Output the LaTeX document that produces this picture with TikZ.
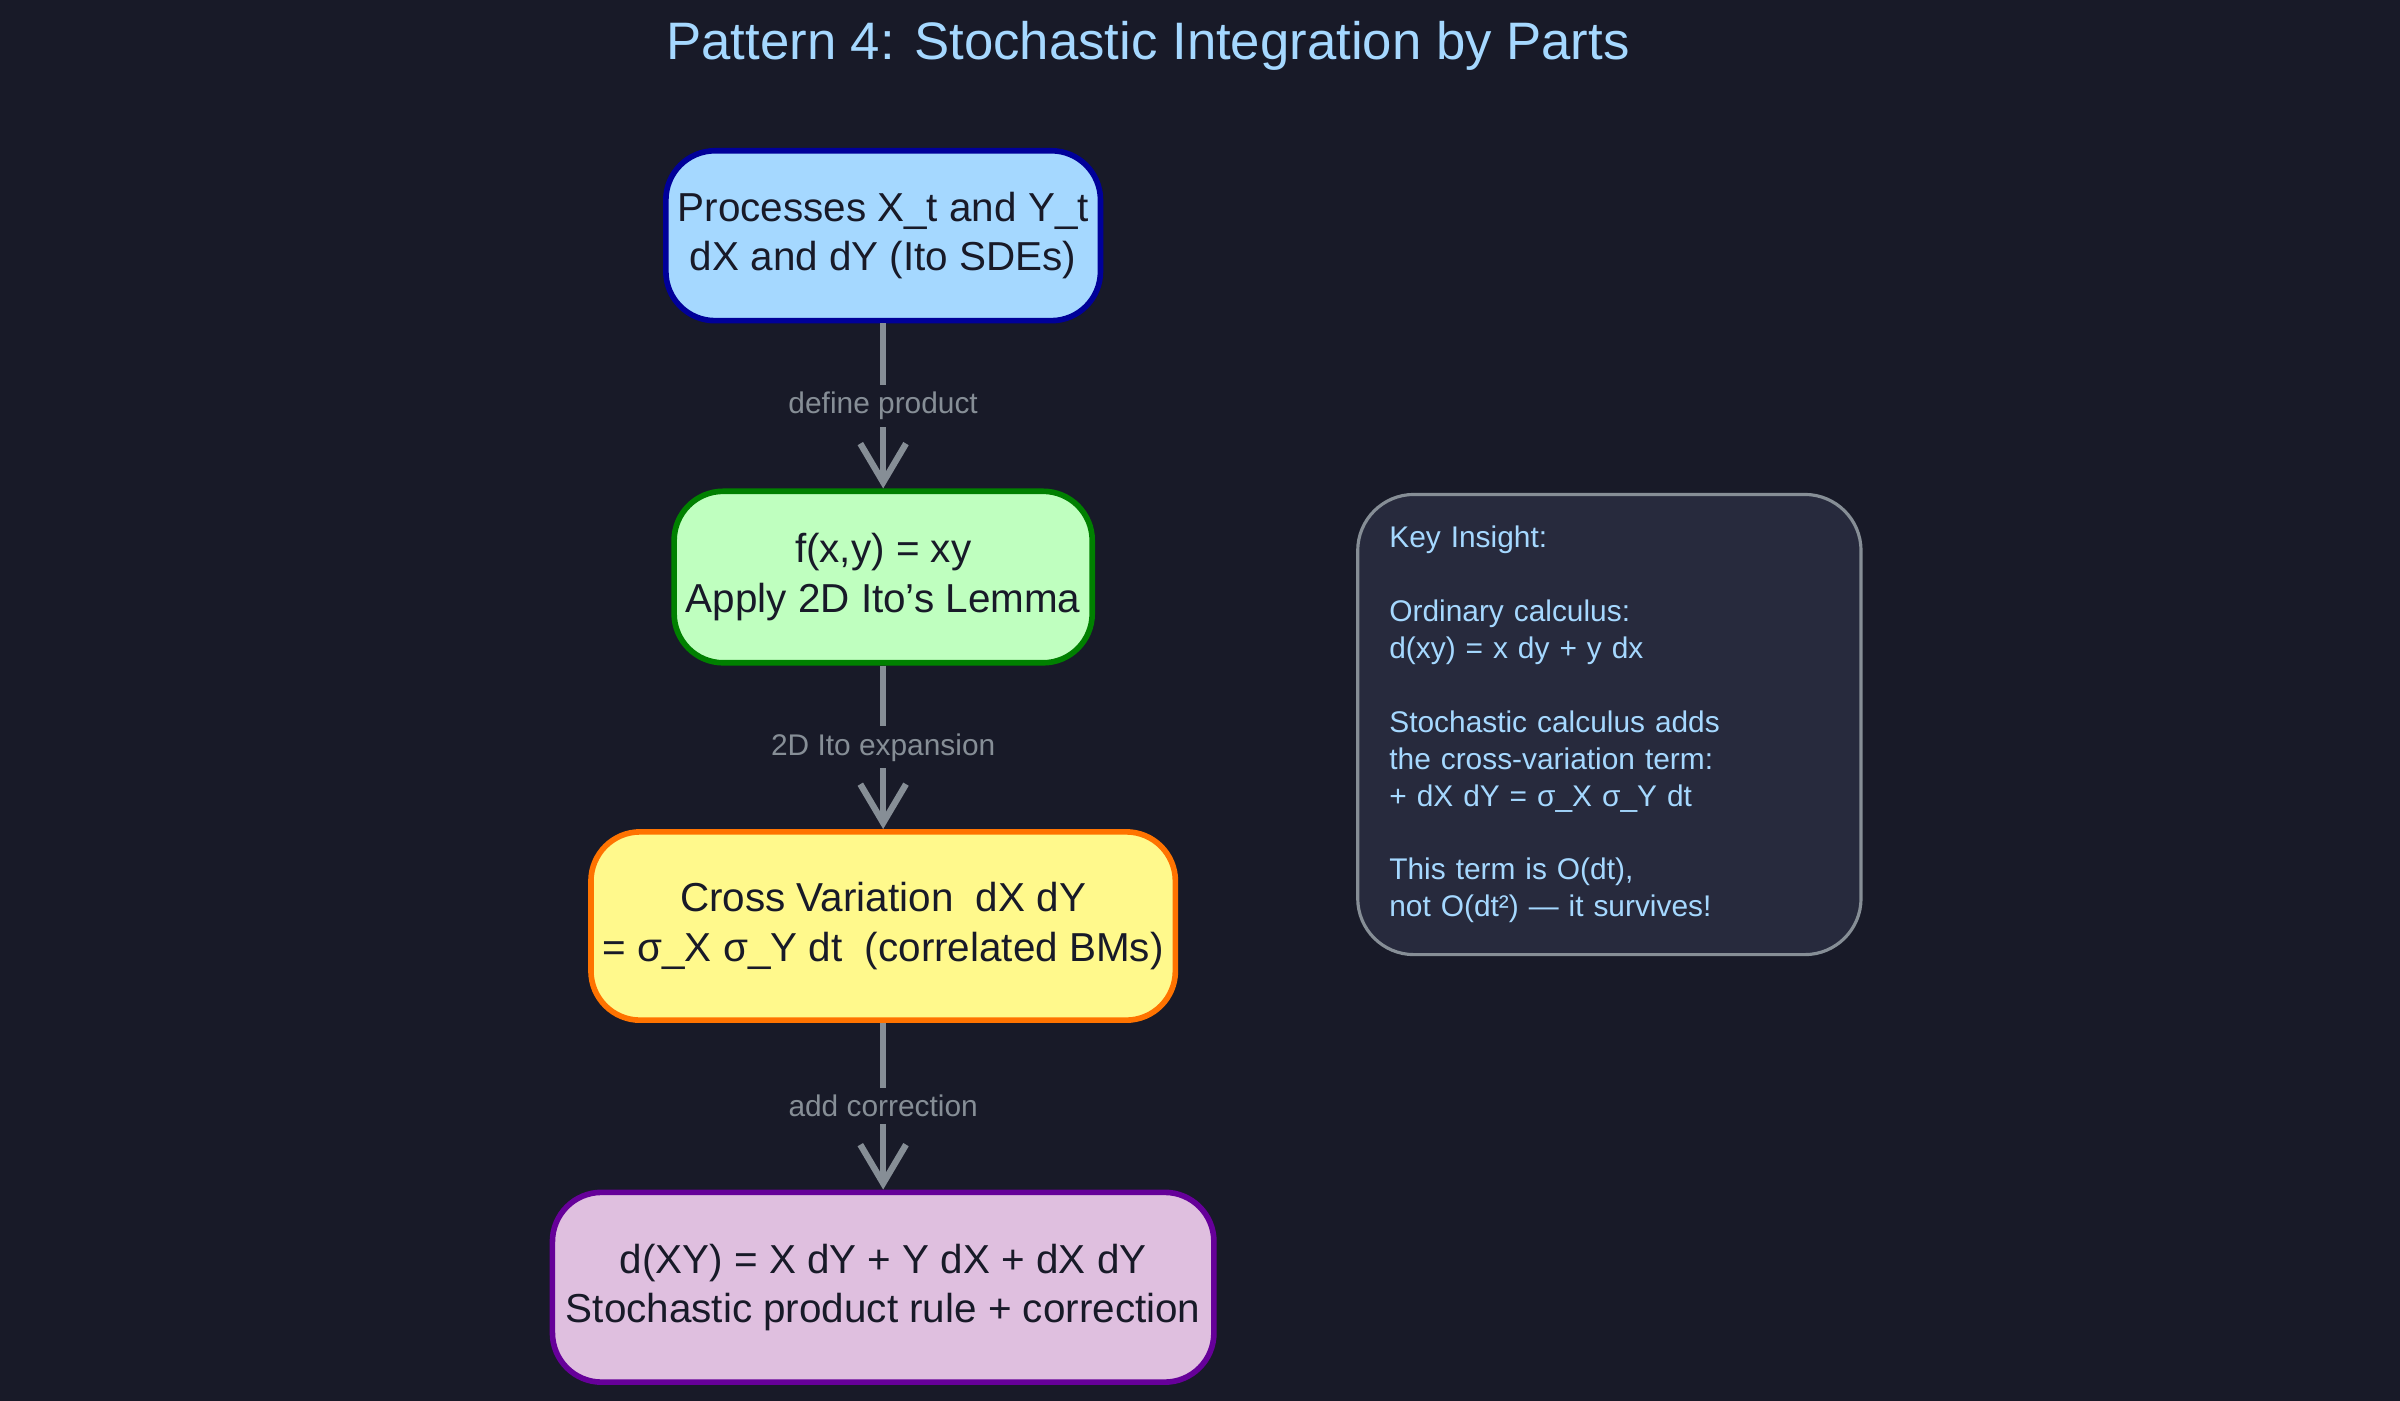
\documentclass[tikz,border=0pt]{standalone}
\usepackage{fontspec}
\setmainfont{Liberation Sans}
\usetikzlibrary{arrows.meta, positioning}
\definecolor{fondo}{HTML}{181A28}
\definecolor{titulo}{HTML}{A5D8FF}
\definecolor{gris}{HTML}{868E96}
\definecolor{nota}{HTML}{272A3D}

\begin{document}
\begin{tikzpicture}[
		x=0.01531cm, y=-0.01531cm,
		% --- Estilos ---
		caja/.style={
			draw, 
			rectangle, 
			rounded corners=14pt, 
			align=center,
			line width=1.6pt,
			text=fondo,
			font=\fontsize{11.5}{14}\selectfont
		},
		flecha/.style={
			-{Straight Barb[length=11pt, width=13pt]}, 
			line width=1.8pt,
			draw=gris
		},
		etiqueta/.style={
			fill=fondo, 
			text=gris, 
			font=\fontsize{8.5}{10}\selectfont,
			inner sep=2pt
		}
		]
		% Fondo y título
		\fill[fondo] (0,0) rectangle (1568,915);
		\useasboundingbox (0,0) rectangle (1568,915);
		\node[text=titulo, font=\fontsize{15}{18}\selectfont] (title) at (750,30) {Pattern 4: Stochastic Integration by Parts};
		
		% 1. Cajas principales
		\node[caja, fill=titulo, draw=blue!60!black, minimum width=4.164cm, minimum height=1.699cm] (proc) at (577,154) {Processes X\_t and Y\_t\\dX and dY (Ito SDEs)};
		\node[caja, fill=green!25, draw=green!50!black, minimum width=4.164cm, minimum height=1.715cm] (lema) at (577,377) {f(x,y) = xy\\Apply 2D Ito's Lemma};
		\node[caja, fill=yellow!45, draw=orange!90!red, minimum width=5.098cm, minimum height=1.883cm] (cross) at (577,605) {Cross Variation \ dX dY\\= σ\_X σ\_Y dt \ (correlated BMs)};
		\node[caja, fill=violet!25, draw=violet!80!blue, minimum width=6.614cm, minimum height=1.898cm] (regla) at (577,841) {d(XY) = X dY + Y dX + dX dY\\Stochastic product rule + correction};
		
		% 2. Nota lateral
		\node[draw=gris, fill=nota, rounded corners=16pt, line width=0.9pt, minimum width=4.915cm, minimum height=4.149cm, text width=4.4cm, align=left, anchor=north west, text=titulo, font=\fontsize{8.5}{10.5}\selectfont, inner sep=9pt] (nota) at (886,322) {Key Insight:\\[10.5pt]Ordinary calculus:\\d(xy) = x dy + y dx\\[10.5pt]Stochastic calculus adds\\the cross-variation term:\\+ dX dY = σ\_X σ\_Y dt\\[10.5pt]This term is O(dt),\\not O(dt²) — it survives!\\[14pt]};
		
		% 3. Flechas
		\draw[flecha] (proc) -- node[etiqueta] {define product} (lema);
		\draw[flecha] (lema) -- node[etiqueta] {2D Ito expansion} (cross);
		\draw[flecha] (cross) -- node[etiqueta] {add correction} (regla);
	\end{tikzpicture}
\end{document}
